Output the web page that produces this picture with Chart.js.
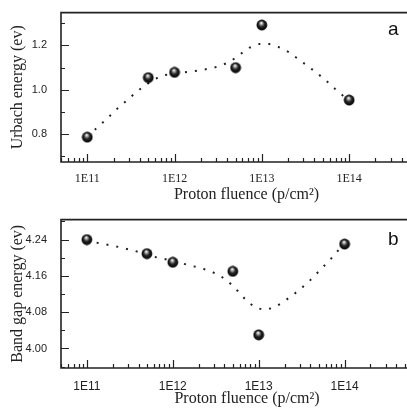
<!DOCTYPE html>
<html>
<head>
<meta charset="utf-8">
<script src="https://cdn.jsdelivr.net/npm/chart.js@4"></script>
<style>
  body { margin: 0; background: #fff; width: 407px; height: 418px; overflow: hidden; }
  canvas { display: block; }
</style>
</head>
<body>
<canvas id="urbach" width="440" height="207"></canvas>
<canvas id="bandgap" width="440" height="211"></canvas>
<script>
// measured points
var fluence = [1e11, 5e11, 1e12, 5e12, 1e13, 1e14];
var urbach = [0.787, 1.055, 1.079, 1.10, 1.292, 0.954];
var bandGap = [4.240, 4.209, 4.190, 4.170, 4.030, 4.230];

// dotted guide curves
var urbachFitX = [1e11, 1.32e11, 1.70e11, 2.14e11, 2.75e11, 3.55e11, 4.57e11, 5.89e11, 7.41e11, 1e12, 1.26e12, 1.62e12, 2.09e12, 2.69e12, 3.39e12, 4.37e12, 5.62e12, 7.24e12, 9.33e12, 1.22e13, 1.55e13, 2.04e13, 2.57e13, 3.31e13, 4.27e13, 5.50e13, 6.92e13, 9.02e13, 1e14];
var urbachFitY = [0.79, 0.832, 0.872, 0.911, 0.948, 0.986, 1.02, 1.048, 1.066, 1.073, 1.078, 1.083, 1.09, 1.098, 1.109, 1.128, 1.16, 1.19, 1.206, 1.206, 1.193, 1.17, 1.141, 1.109, 1.076, 1.04, 1.004, 0.965, 0.952];
var gapFitX = [1e11, 1.32e11, 1.70e11, 2.19e11, 2.82e11, 3.63e11, 4.68e11, 6.03e11, 7.76e11, 1e12, 1.26e12, 1.66e12, 2.14e12, 2.75e12, 3.47e12, 4.57e12, 5.75e12, 7.24e12, 9.12e12, 1.17e13, 1.51e13, 1.95e13, 2.51e13, 3.24e13, 4.17e13, 5.25e13, 6.76e13, 8.32e13, 1e14];
var gapFitY = [4.238, 4.233, 4.229, 4.225, 4.220, 4.215, 4.208, 4.202, 4.198, 4.193, 4.188, 4.182, 4.177, 4.170, 4.162, 4.145, 4.126, 4.105, 4.090, 4.085, 4.090, 4.103, 4.118, 4.135, 4.154, 4.174, 4.195, 4.215, 4.228];

// axis ticks
var xTicks = [1e11, 1e12, 1e13, 1e14];
var xTickLabels = ['1E11', '1E12', '1E13', '1E14'];
var urbachTicks = [0.8, 1.0, 1.2];
var urbachMinor = [0.7, 0.9, 1.1, 1.3];
var gapTicks = [4.00, 4.08, 4.16, 4.24];
var gapMinor = [3.96, 4.04, 4.12, 4.20, 4.28];

// little shaded ball for the markers
function makeBall() {
  var c = document.createElement('canvas');
  c.width = 12; c.height = 12;
  var g = c.getContext('2d');
  var grad = g.createRadialGradient(5.3, 3.8, 0.3, 6, 6, 5.8);
  grad.addColorStop(0, '#ffffff');
  grad.addColorStop(0.2, '#a0a0a0');
  grad.addColorStop(0.5, '#222');
  grad.addColorStop(1, '#000');
  g.fillStyle = grad;
  g.beginPath();
  g.arc(6, 6, 5.4, 0, Math.PI * 2);
  g.fill();
  return c;
}
var ball = makeBall();

function pairs(xs, ys) {
  return xs.map(function (x, i) { return { x: x, y: ys[i] }; });
}

// frame + inward tick marks
var framePlugin = {
  id: 'frame',
  beforeDatasetsDraw: function (chart, args, opts) {
    var ctx = chart.ctx, a = chart.chartArea;
    var xs = chart.scales.x, ys = chart.scales.y;
    ctx.save();
    ctx.strokeStyle = '#222';
    ctx.lineWidth = 1.6;
    ctx.beginPath();
    ctx.moveTo(a.right + 5, a.top);
    ctx.lineTo(a.left, a.top);
    ctx.lineTo(a.left, a.bottom);
    ctx.lineTo(a.right + 5, a.bottom);
    ctx.stroke();
    ctx.lineWidth = 1.2;
    ctx.beginPath();
    // x ticks, decades long, 2..9 short
    for (var e = 10; e <= 15; e++) {
      for (var k = 1; k <= 9; k++) {
        var v = k * Math.pow(10, e);
        if (v < xs.min || v > xs.max) continue;
        var px = Math.round(xs.getPixelForValue(v)) + 0.5;
        var len = k === 1 ? 8 : 4;
        ctx.moveTo(px, a.bottom);
        ctx.lineTo(px, a.bottom - len);
      }
    }
    opts.major.forEach(function (v) {
      var py = Math.round(ys.getPixelForValue(v)) + 0.5;
      ctx.moveTo(a.left, py); ctx.lineTo(a.left + 8, py);
    });
    opts.minor.forEach(function (v) {
      var py = Math.round(ys.getPixelForValue(v)) + 0.5;
      if (py < a.top || py > a.bottom) return;
      ctx.moveTo(a.left, py); ctx.lineTo(a.left + 4, py);
    });
    ctx.stroke();
    // panel letter
    ctx.fillStyle = '#111';
    ctx.font = '19px "Liberation Sans", Arial, sans-serif';
    ctx.textAlign = 'left';
    ctx.textBaseline = 'alphabetic';
    ctx.fillText(opts.letter, 388, a.top + opts.letterDy);
    ctx.restore();
  }
};

function makeChart(id, cfg) {
  return new Chart(document.getElementById(id), {
    data: {
      datasets: [
        {
          type: 'scatter',
          data: pairs(fluence, cfg.values),
          pointStyle: ball,
          pointRadius: 6
        },
        {
          type: 'line',
          data: pairs(cfg.fitX, cfg.fitY),
          borderColor: '#222',
          borderWidth: 2,
          borderDash: [2, 8],
          pointRadius: 0,
          fill: false,
          tension: 0
        }
      ]
    },
    options: {
      responsive: false,
      devicePixelRatio: 1,
      animation: false,
      layout: { padding: { top: cfg.padTop, right: cfg.padRight, left: 0, bottom: 0 } },
      plugins: {
        legend: { display: false },
        tooltip: { enabled: false },
        frame: { major: cfg.yTicks, minor: cfg.yMinor, letter: cfg.letter, letterDy: cfg.letterDy }
      },
      scales: {
        x: {
          type: 'logarithmic',
          bounds: 'data',
          min: 5e10,
          max: cfg.xMax,
          grid: { display: false },
          border: { display: false },
          afterBuildTicks: function (s) { s.ticks = xTicks.map(function (v) { return { value: v }; }); },
          afterFit: function (s) { s.height = cfg.xHeight; },
          ticks: {
            autoSkip: false,
            maxRotation: 0,
            padding: cfg.xTickPad,
            color: '#222',
            font: cfg.xTickFont,
            callback: function (v) { var i = xTicks.indexOf(v); return i >= 0 ? xTickLabels[i] : ''; }
          },
          title: {
            display: true,
            text: 'Proton fluence (p/cm²)',
            color: '#222',
            font: { family: '"Liberation Serif", "Times New Roman", serif', size: 16 },
            padding: { top: 0, bottom: cfg.xTitlePad }
          }
        },
        y: {
          type: 'linear',
          min: cfg.yMin,
          max: cfg.yMax,
          grid: { display: false },
          border: { display: false },
          afterBuildTicks: function (s) { s.ticks = cfg.yTicks.map(function (v) { return { value: v }; }); },
          afterFit: function (s) { s.width = 61; },
          ticks: {
            padding: 6,
            color: '#222',
            font: { family: '"Liberation Sans", Arial, sans-serif', size: 11 },
            callback: function (v) { return v.toFixed(cfg.digits); }
          },
          title: {
            display: true,
            text: cfg.yTitle,
            color: '#222',
            font: { family: '"Liberation Serif", "Times New Roman", serif', size: 16 },
            padding: { top: 8, bottom: 0 }
          }
        }
      }
    },
    plugins: [framePlugin]
  });
}

makeChart('urbach', {
  values: urbach, fitX: urbachFitX, fitY: urbachFitY,
  yMin: 0.675, yMax: 1.348, yTicks: urbachTicks, yMinor: urbachMinor, digits: 1,
  yTitle: 'Urbach energy (ev)', letter: 'a', letterDy: 22,
  padTop: 6, padRight: 8, xMax: 8.9e14, xHeight: 45, xTickPad: 2, xTitlePad: 3,
  xTickFont: { family: '"Liberation Serif", "Times New Roman", serif', size: 12 }
});

makeChart('bandgap', {
  values: bandGap, fitX: gapFitX, fitY: gapFitY,
  yMin: 3.957, yMax: 4.284, yTicks: gapTicks, yMinor: gapMinor, digits: 2,
  yTitle: 'Band gap energy (ev)', letter: 'b', letterDy: 25,
  padTop: 8, padRight: 1, xMax: 1.07e15, xHeight: 50, xTickPad: 3, xTitlePad: 10,
  xTickFont: { family: '"Liberation Sans", Arial, sans-serif', size: 12 }
});
</script>
</body>
</html>
